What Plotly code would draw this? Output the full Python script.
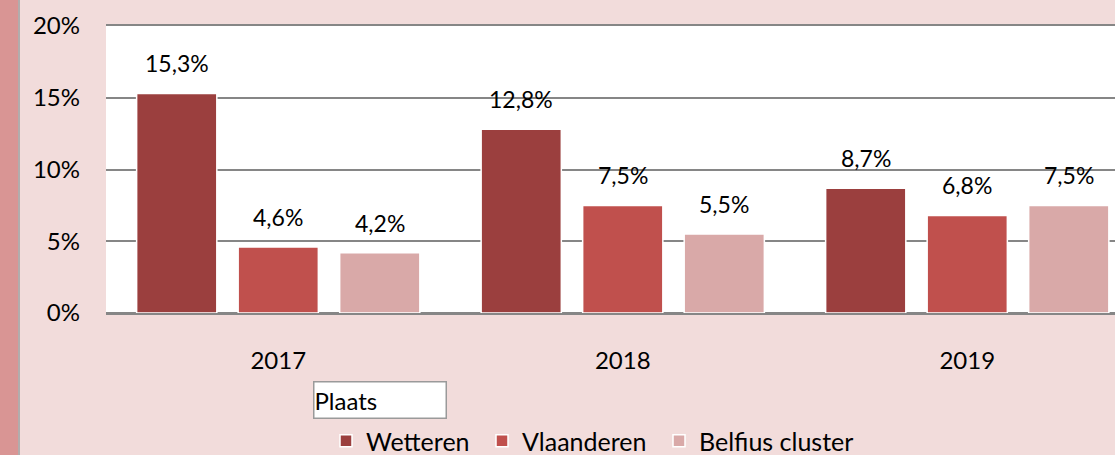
import plotly.graph_objects as go

years = ["2017", "2018", "2019"]
wetteren = [0.153, 0.128, 0.087]
vlaanderen = [0.046, 0.075, 0.068]
belfius = [0.042, 0.055, 0.075]
series_names = ["Wetteren", "Vlaanderen", "Belfius cluster"]
colors = ["#9b3f3e", "#c0504d", "#d9a9a8"]
ytick_vals = [0, 0.05, 0.10, 0.15, 0.20]

FONT = "Lato"
FS = 23
TICK_FS = 24
BARGAP = 0.116

W, H = 1115, 455
ML, MT, MB = 106, 26, 142
plot_w = W - ML
plot_h = H - MT - MB
band = 344.5  # px per category (third band clipped at the right edge)
xmax = -0.5 + plot_w / band

def px_x(p):
    return (p - ML) / plot_w

def px_y(p):
    return (MT + plot_h - p) / plot_h

fig = go.Figure()
all_series = [wetteren, vlaanderen, belfius]
legend_ids = ["legend", "legend2", "legend3"]
legend_left_px = [326, 482, 659]
for name, vals, col, lid in zip(series_names, all_series, colors, legend_ids):
    fig.add_trace(go.Bar(
        x=years, y=vals, name=name, legend=lid,
        marker=dict(color=col, line=dict(color="white", width=1.5)),
    ))

slot = (1 - BARGAP) / 3
for j, vals in enumerate(all_series):
    for i, v in enumerate(vals):
        fig.add_annotation(
            x=i + (j - 1) * slot, y=v, xref="x", yref="y",
            text=f"{v*100:.1f}%".replace(".", ","),
            showarrow=False, yanchor="bottom", yshift=14,
            font=dict(family=FONT, size=FS, color="#000000"),
        )

# "Plaats" box
fig.add_annotation(
    xref="paper", yref="paper",
    x=px_x(313), y=px_y(381),
    xanchor="left", yanchor="top",
    text="Plaats", showarrow=False, align="left",
    width=131, height=35,
    bgcolor="white", bordercolor="#9a9a9a", borderwidth=1.5, borderpad=0,
    font=dict(family=FONT, size=24, color="#000000"),
)

# left decorative stripe
fig.add_shape(type="rect", xref="paper", yref="paper",
              x0=px_x(0), x1=px_x(18), y0=-2, y1=2,
              fillcolor="#d99594", line_width=0, layer="below")
fig.add_shape(type="line", xref="paper", yref="paper",
              x0=px_x(19), x1=px_x(19), y0=-2, y1=2,
              line=dict(color="#9c9c9c", width=1.5), layer="below")

legend_common = dict(orientation="h", xanchor="left", yanchor="middle",
                     y=px_y(441), font=dict(family=FONT, size=25),
                     bgcolor="rgba(0,0,0,0)", itemwidth=30, borderwidth=0)

fig.update_layout(
    width=W, height=H,
    margin=dict(l=ML, r=0, t=MT, b=MB, pad=0, autoexpand=False),
    paper_bgcolor="#f2dcdb",
    plot_bgcolor="white",
    barmode="group", bargap=BARGAP, bargroupgap=0.21,
    separators=",.",
    font=dict(family=FONT, size=FS, color="#000000"),
    showlegend=True,
    legend=dict(x=px_x(legend_left_px[0]), **legend_common),
    legend2=dict(x=px_x(legend_left_px[1]), **legend_common),
    legend3=dict(x=px_x(legend_left_px[2]), **legend_common),
    xaxis=dict(range=[-0.5, xmax], showgrid=False,
               showline=True, mirror=True, linecolor="#868686", linewidth=1.5,
               ticks="", ticklabelstandoff=25, tickfont=dict(size=TICK_FS)),
    yaxis=dict(range=[0, 0.20], tickvals=ytick_vals, tickformat=".0%",
               showgrid=True, gridcolor="#868686", gridwidth=1.5,
               zeroline=True, zerolinecolor="#868686", zerolinewidth=1.5,
               showline=False, ticks="", ticklabelstandoff=25,
               tickfont=dict(size=TICK_FS)),
)

fig.write_html("out.html", config={"displayModeBar": False},
               post_script="document.body.style.margin='0px';")
